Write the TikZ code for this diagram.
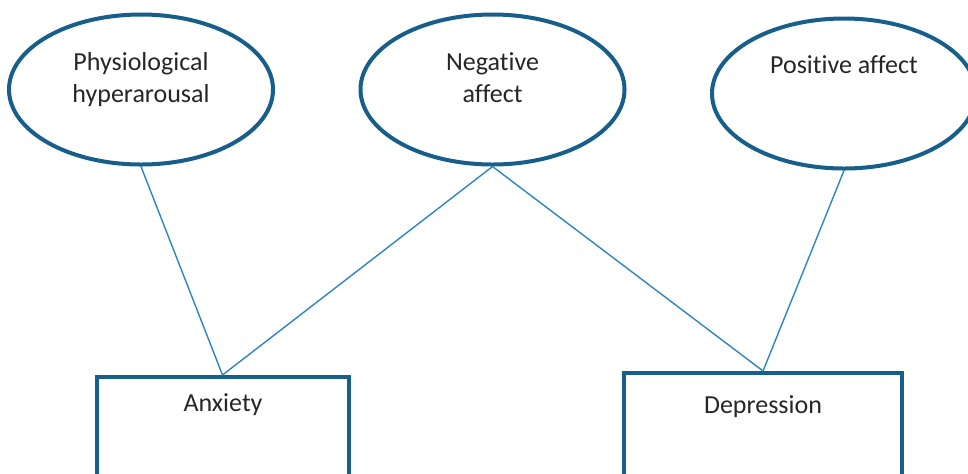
\documentclass[tikz,border=0pt]{standalone}
\usepackage{fontspec}
\setmainfont{Carlito}[Ligatures={NoCommon}]
\usetikzlibrary{shapes.geometric}
\definecolor{shapeblue}{RGB}{24,94,138}
\definecolor{linkblue}{RGB}{46,134,193}
\definecolor{txt}{RGB}{38,38,38}
\tikzset{
  factor/.style={ellipse, draw=shapeblue, line width=2pt, minimum width=132pt, minimum height=75pt, inner sep=0pt},
  disorder/.style={rectangle, draw=shapeblue, line width=2pt, minimum width=126pt, minimum height=80pt, anchor=north, inner sep=0pt},
  lbl/.style={text=txt, font=\fontsize{13pt}{16pt}\selectfont, align=center, anchor=base, inner sep=0pt},
  link/.style={draw=linkblue, line width=0.7pt}
}
\begin{document}
\begin{tikzpicture}[x=0.5pt,y=-0.5pt]
\useasboundingbox (0,0) rectangle (968,473);
\clip (0,0) rectangle (968,473);
\node[factor] (phys) at (141,89.5) {};
\node[factor] (neg) at (492.5,89.5) {};
\node[factor] (pos) at (844,93.5) {};
\node[disorder] (anx) at (222.5,375) {};
\node[disorder, minimum width=139pt] (dep) at (763,371) {};
\node[lbl] (physt) at (141,102) {Physiological\\hyperarousal};
\node[lbl] (negt) at (492.5,102) {Negative\\affect};
\node[lbl] (post) at (844,73) {Positive affect};
\node[lbl] (anxt) at (223,411) {Anxiety};
\node[lbl] (dept) at (763,413) {Depression};
\draw[link] (phys.south) -- (anx.north);
\draw[link] (neg.south) -- (anx.north);
\draw[link] (neg.south) -- (dep.north);
\draw[link] (pos.south) -- (dep.north);
\end{tikzpicture}
\end{document}
